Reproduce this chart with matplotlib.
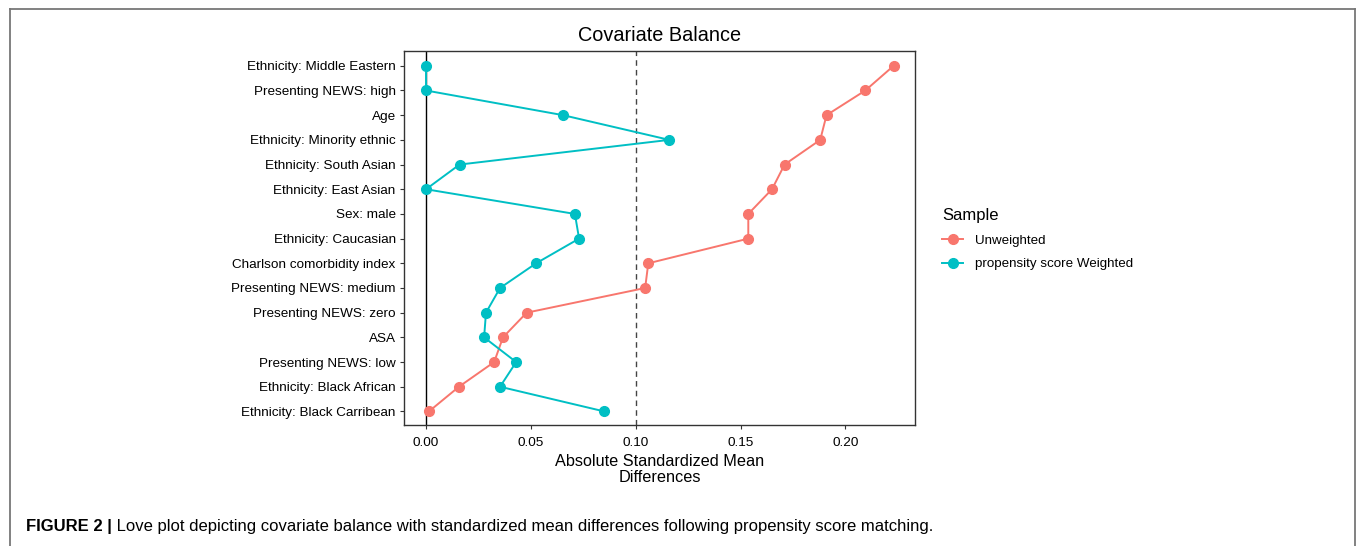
import matplotlib
matplotlib.use("Agg")
import matplotlib.pyplot as plt
from matplotlib.lines import Line2D

plt.rcParams['font.family'] = ['Liberation Sans', 'DejaVu Sans']

# covariates, top to bottom
covariates = ["Ethnicity: Middle Eastern", "Presenting NEWS: high", "Age",
              "Ethnicity: Minority ethnic", "Ethnicity: South Asian",
              "Ethnicity: East Asian", "Sex: male", "Ethnicity: Caucasian",
              "Charlson comorbidity index", "Presenting NEWS: medium",
              "Presenting NEWS: zero", "ASA", "Presenting NEWS: low",
              "Ethnicity: Black African", "Ethnicity: Black Carribean"]
unweighted = [0.223, 0.2095, 0.191, 0.188, 0.171, 0.165, 0.1537, 0.1537,
              0.106, 0.1045, 0.048, 0.0367, 0.0325, 0.0157, 0.0014]
weighted = [0.0, 0.0, 0.0654, 0.116, 0.016, 0.0, 0.071, 0.073,
            0.0525, 0.0353, 0.0286, 0.0277, 0.043, 0.0353, 0.085]
xticks = [0.0, 0.05, 0.10, 0.15, 0.20]
threshold = 0.1

fig = plt.figure(figsize=(13.57, 5.46), dpi=100)
ax = fig.add_axes([404/1357, 121/546, 511/1357, 374/546])

ypos = list(range(len(covariates)))
ax.axvline(0, color='black', lw=1.0, zorder=1)
ax.axvline(threshold, color='#444444', lw=1.0, ls=(0, (4, 3)), zorder=1)
ax.plot(unweighted, ypos, '-o', color='#F8766D', lw=1.4, ms=7,
        label='Unweighted', zorder=3)
ax.plot(weighted, ypos, '-o', color='#00BFC4', lw=1.4, ms=7,
        label='propensity score Weighted', zorder=3)

ax.set_yticks(ypos)
ax.set_yticklabels(covariates)
ax.set_ylim(len(covariates) - 1 + 0.55, -0.6)
ax.set_xlim(-0.0105, 0.2332)
ax.set_xticks(xticks)
ax.set_xticklabels(["0.00", "0.05", "0.10", "0.15", "0.20"])
ax.tick_params(labelsize=9.7, length=3, width=0.8, colors='#333333',
               labelcolor='black')
ax.tick_params(axis='x', pad=6)
ax.tick_params(axis='y', pad=3)
for s in ax.spines.values():
    s.set_color('#333333')
    s.set_linewidth(1.0)

ax.set_title("Covariate Balance", fontsize=14.3, pad=7)
ax.set_xlabel("Absolute Standardized Mean\nDifferences", fontsize=11.7,
              labelpad=3, linespacing=1.1)

leg = ax.legend(loc='upper left', bbox_to_anchor=(930/1357, 350/546),
                bbox_transform=fig.transFigure, frameon=False, fontsize=9.6,
                title='Sample', title_fontsize=12, handlelength=1.6,
                handletextpad=0.9, labelspacing=0.85, alignment='left')

# outer frame of the figure panel
for xs, ys in [([9.5/1357, 9.5/1357], [0, 1 - 8.5/546]),
               ([9.5/1357, 1354.5/1357], [1 - 8.5/546, 1 - 8.5/546]),
               ([1354.5/1357, 1354.5/1357], [0, 1 - 8.5/546])]:
    fig.add_artist(Line2D(xs, ys, color='#777777', lw=1.3,
                          transform=fig.transFigure))

t1 = fig.text(26/1357, 1 - 527/546, "FIGURE 2 |", fontsize=12,
              fontweight='bold', va='center')
ax.annotate(" Love plot depicting covariate balance with standardized mean "
            "differences following propensity score matching.",
            xy=(1, 0.5), xycoords=t1, va='center', fontsize=12,
            annotation_clip=False)

fig.savefig("out.png", dpi=100)
